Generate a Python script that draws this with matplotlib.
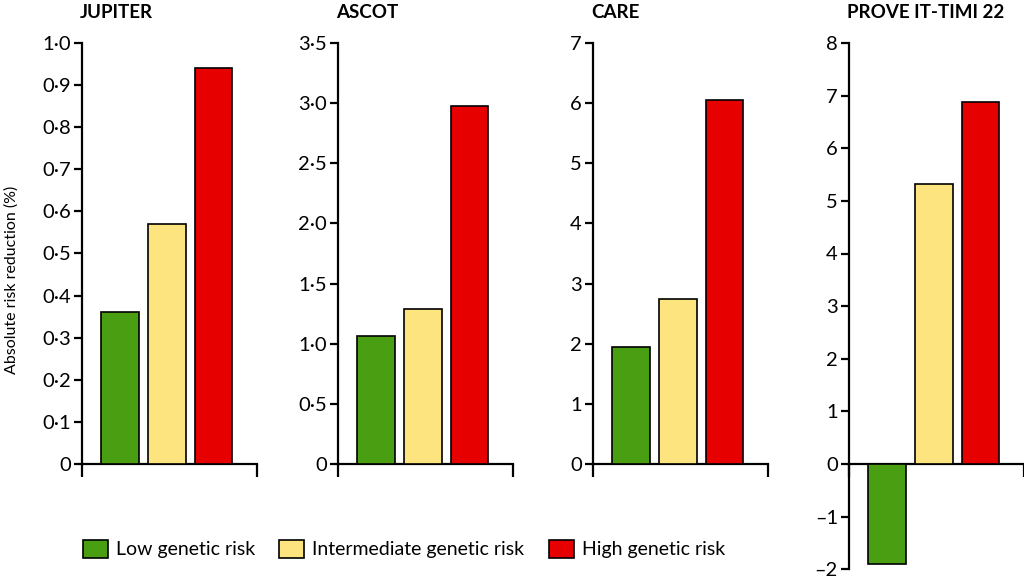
import matplotlib.pyplot as plt
from matplotlib.patches import Patch
from matplotlib.ticker import FuncFormatter, MultipleLocator

plt.rcParams['font.family'] = ['Lato', 'DejaVu Sans']

trials = ["JUPITER", "ASCOT", "CARE", "PROVE IT-TIMI 22"]
groups = ["Low genetic risk", "Intermediate genetic risk", "High genetic risk"]
low = [0.36, 1.06, 1.95, -1.90]
intermediate = [0.57, 1.29, 2.75, 5.32]
high = [0.94, 2.98, 6.05, 6.87]
y_limits = [(0, 1.0), (0, 3.5), (0, 7), (-2, 8)]
y_steps = [0.1, 0.5, 1, 1]

colors = ["#4a9e12", "#fde47e", "#e60000"]


def make_formatter(step):
    # lancet style: middle dot decimals, en dash minus
    def f(v, pos):
        if abs(v) < 1e-9:
            return "0"
        if step < 1:
            return f"{v:.1f}".replace(".", "\u00b7")
        return f"{int(round(v))}".replace("-", "\u2013")
    return FuncFormatter(f)


fig = plt.figure(figsize=(10.24, 5.76), dpi=100)
W, H = 1024, 576
x_axis = [82, 338, 593, 849]
ax_w = 175
top_px = 43

for i, name in enumerate(trials):
    lo, hi = y_limits[i]
    bottom_px = 464 + (0 - lo) * (464 - top_px) / hi
    ax = fig.add_axes([x_axis[i] / W, 1 - bottom_px / H, ax_w / W, (bottom_px - top_px) / H])
    vals = [low[i], intermediate[i], high[i]]
    ax.bar(range(3), vals, width=0.806, color=colors, edgecolor="black", linewidth=1.2, zorder=3)
    ax.set_xlim(-0.817, 2.935)
    ax.set_ylim(lo, hi)
    ax.yaxis.set_major_locator(MultipleLocator(y_steps[i]))
    ax.yaxis.set_major_formatter(make_formatter(y_steps[i]))
    ax.spines[["top", "right"]].set_visible(False)
    ax.spines["left"].set_linewidth(1.6)
    ax.spines["bottom"].set_linewidth(1.6)
    ax.spines["bottom"].set_position(("data", 0))
    ax.set_xticks([-0.817, 2.935])
    ax.set_xticklabels([])
    ax.tick_params(axis="x", direction="out", length=9, width=1.6)
    ax.tick_params(axis="y", direction="out", length=6, width=1.6, pad=2, labelsize=14.5)
    ax.set_title(name, loc="left", fontsize=13.5, fontweight="bold", pad=18, x=-0.01)

fig.text(12 / W, 1 - 280 / H, "Absolute risk reduction (%)", rotation=90,
         ha="center", va="center", fontsize=11.5)

handles = [Patch(facecolor=c, edgecolor="black", linewidth=1.2) for c in colors]
fig.legend(handles, groups, loc="lower left", bbox_to_anchor=(65 / W, 0.0), ncol=3,
           frameon=False, fontsize=14, handlelength=1.3, handleheight=1.1,
           handletextpad=0.4, columnspacing=1.25)

fig.savefig("out.png", dpi=100)
